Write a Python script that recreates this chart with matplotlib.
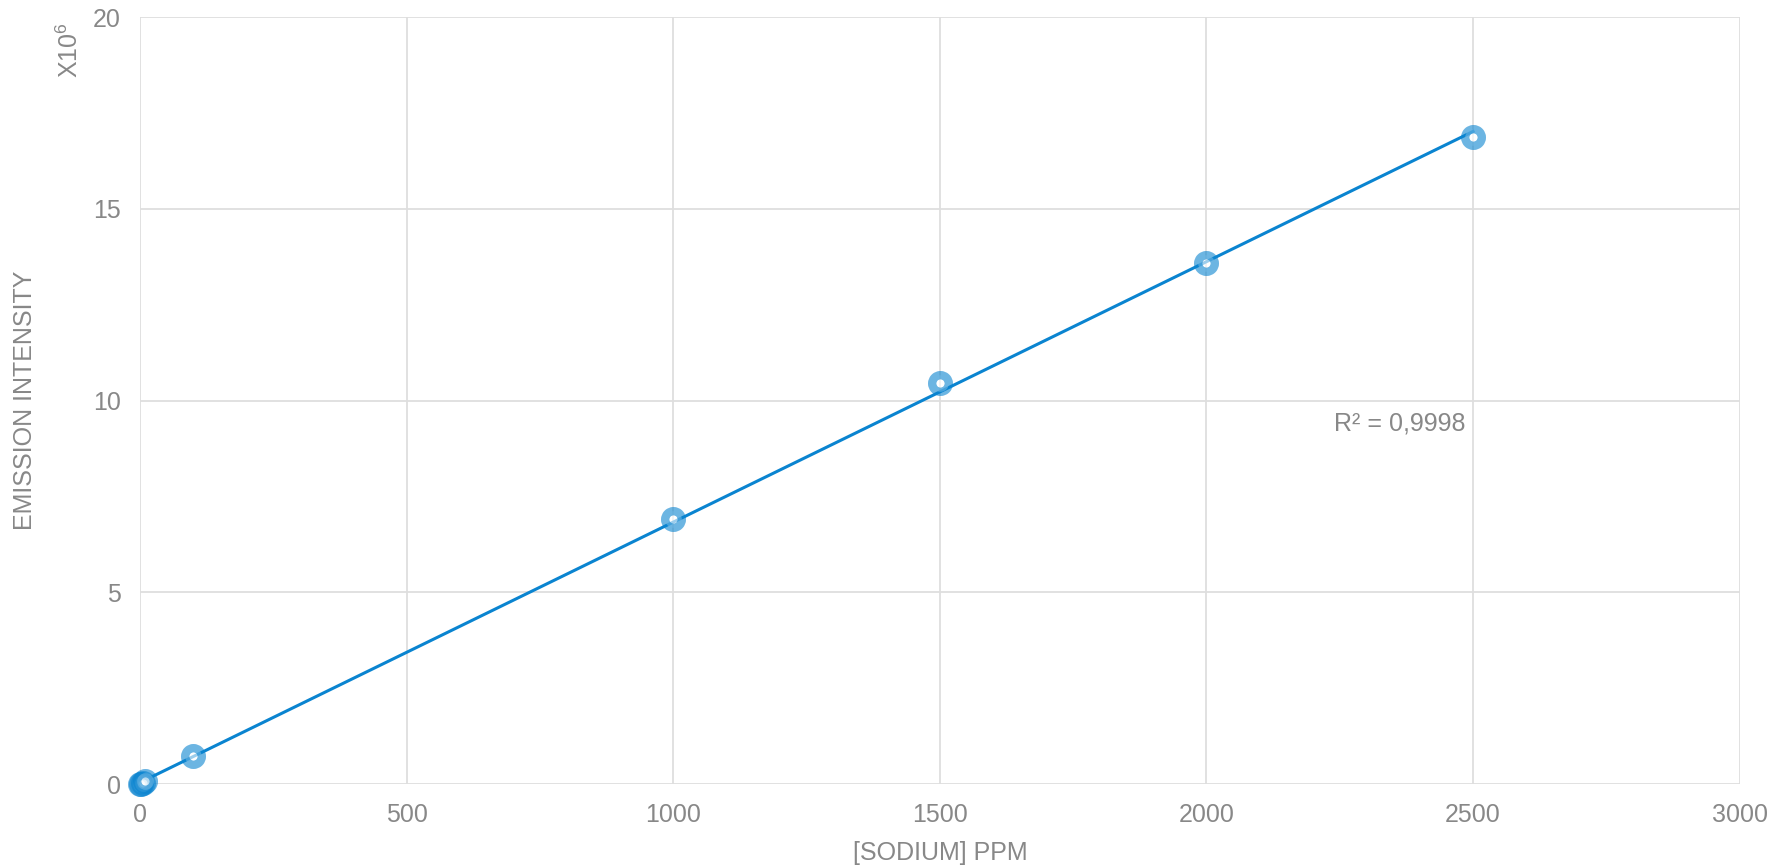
import numpy as np
import matplotlib
matplotlib.use('Agg')
import matplotlib.pyplot as plt

# concentration (ppm) and emission intensity (x10^6)
sodium_ppm = [0, 1, 5, 10, 100, 1000, 1500, 2000, 2500]
intensity = [0.0, 0.007, 0.035, 0.07, 0.74, 6.91, 10.46, 13.59, 16.88]

x_ticks = [0, 500, 1000, 1500, 2000, 2500, 3000]
y_ticks = [0, 5, 10, 15, 20]
r2_label = 'R² = 0,9998'

plt.rcParams['font.family'] = ['Liberation Sans', 'DejaVu Sans']
plt.rcParams['mathtext.default'] = 'regular'

blue = '#0A84D0'
grey = '#888888'

fig = plt.figure(figsize=(17.77, 8.65), dpi=100)
ax = fig.add_axes([0.0788, 0.0936, 0.9002, 0.8864])

# linear trendline
slope, intercept = np.polyfit(sodium_ppm, intensity, 1)
xs = np.array([min(sodium_ppm), max(sodium_ppm)])
ax.plot(xs, slope * xs + intercept, color=blue, lw=2.2, zorder=3)

ax.plot(sodium_ppm, intensity, linestyle='none', marker='o', ms=12,
        mew=6, mec=blue, mfc='white', alpha=0.6, zorder=4, clip_on=False)

ax.set_xlim(0, 3000)
ax.set_ylim(0, 20)
ax.set_xticks(x_ticks)
ax.set_yticks(y_ticks)
ax.grid(True, color='#DEDEDE', lw=1.3)
ax.set_axisbelow(True)
for s in ax.spines.values():
    s.set_visible(False)
ax.tick_params(axis='x', length=0, labelsize=18, colors=grey, pad=14)
ax.tick_params(axis='y', length=0, labelsize=18, colors=grey, pad=14)

ax.set_xlabel('[SODIUM] PPM', fontsize=18, color=grey, labelpad=10)
ax.set_ylabel('EMISSION INTENSITY', fontsize=18, color=grey, labelpad=40)

ax.text(2240, 9.4, r2_label, fontsize=18, color=grey, va='center', ha='left')
fig.text(70 / 1777, 1 - 50 / 865, 'X10$^{6}$', rotation=90, fontsize=18,
         color=grey, ha='center', va='center')

fig.savefig('out.png', dpi=100)
